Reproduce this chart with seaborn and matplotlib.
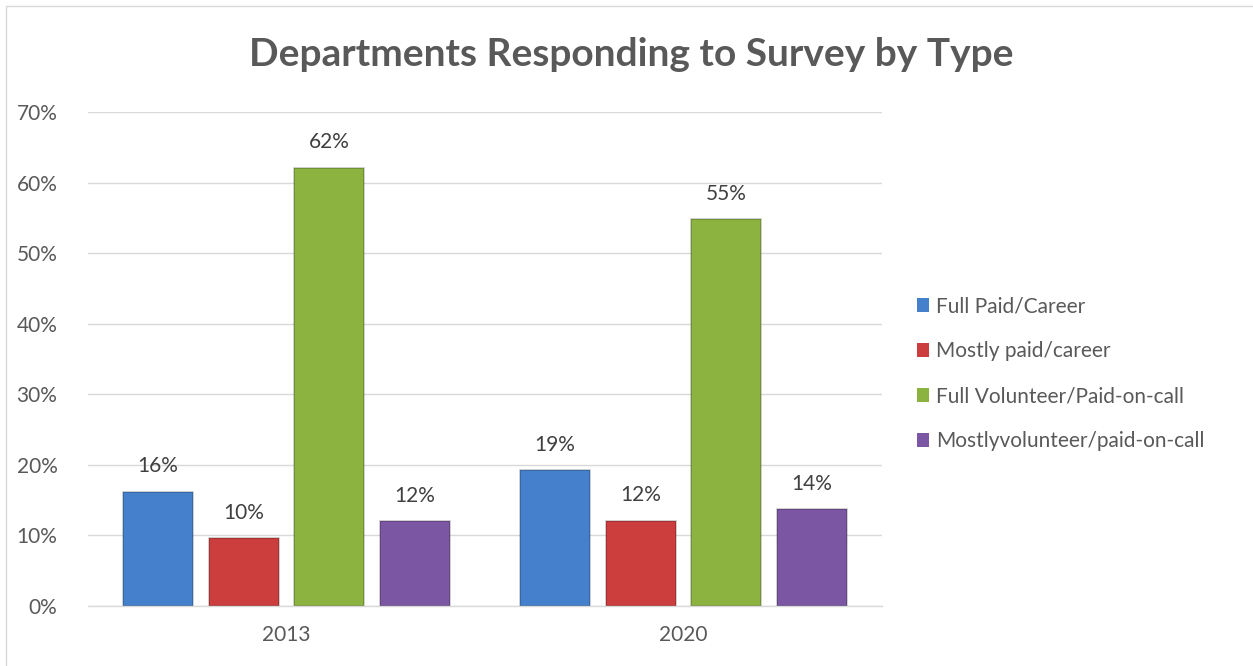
import matplotlib
matplotlib.use("Agg")
import matplotlib.pyplot as plt
import seaborn as sns
import pandas as pd
from matplotlib.patches import Rectangle

years = ["2013", "2020"]
types = ["Full Paid/Career", "Mostly paid/career",
         "Full Volunteer/Paid-on-call", "Mostlyvolunteer/paid-on-call"]
vals_2013 = [0.162, 0.096, 0.621, 0.120]
vals_2020 = [0.193, 0.121, 0.548, 0.137]
colors = ["#4480cc", "#cc3d3d", "#8cb23f", "#7b57a3"]
yticks = [0, 0.1, 0.2, 0.3, 0.4, 0.5, 0.6, 0.7]

rows = []
for y, vals in zip(years, [vals_2013, vals_2020]):
    for t, v in zip(types, vals):
        rows.append({"Year": y, "Type": t, "Value": v})
df = pd.DataFrame(rows)

sns.set_theme(style="white")
plt.rcParams["font.family"] = ["Lato", "DejaVu Sans"]

fig = plt.figure(figsize=(12.53, 6.66), dpi=100)
ax = fig.add_axes([88/1253, 1-606/666, (882-88)/1253, (606-112)/666])

sns.barplot(data=df, x="Year", y="Value", hue="Type", palette=colors,
            width=0.864, gap=0.186, ax=ax, saturation=1, legend=True,
            linewidth=0)

for c in ax.containers:
    for p in c:
        p.set_edgecolor("#00000038")
        p.set_linewidth(1.2)
    ax.bar_label(c, labels=[f"{v*100:.0f}%" for v in c.datavalues],
                 padding=11, fontsize=15, color="#404040")

ax.set_ylim(0, 0.7)
ax.set_xlim(-0.5, 1.5)
ax.set_yticks(yticks)
ax.set_yticklabels([f"{int(round(t*100))}%" for t in yticks])
ax.tick_params(axis="y", length=0, pad=22, labelsize=15, labelcolor="#595959")
ax.tick_params(axis="x", length=0, pad=14, labelsize=15, labelcolor="#595959")
ax.set_xlabel("")
ax.set_ylabel("")
ax.grid(axis="y", color="#d9d9d9", linewidth=1)
ax.set_axisbelow(True)
for s in ["top", "right", "left"]:
    ax.spines[s].set_visible(False)
ax.spines["bottom"].set_color("#d9d9d9")
ax.spines["bottom"].set_linewidth(1)

leg = ax.legend(loc="center left", bbox_to_anchor=(1.02, 0.47), frameon=False,
                fontsize=15, labelcolor="#595959", handlelength=0.6,
                handleheight=0.6, handletextpad=0.35, labelspacing=1.2)

fig.text(0.504, 0.918, "Departments Responding to Survey by Type",
         ha="center", va="center", fontsize=28, fontweight="bold",
         color="#595959")

fig.patches.append(Rectangle((6/1253, -0.01), 1.0, 1-6/666 + 0.01,
                             transform=fig.transFigure, fill=False,
                             edgecolor="#d9d9d9", linewidth=1))

fig.savefig("out.png", dpi=100)
